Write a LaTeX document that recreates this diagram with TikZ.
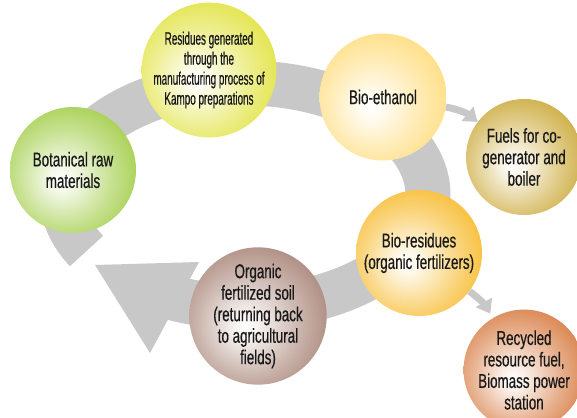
\documentclass[tikz,border=0pt]{standalone}
\usepackage{fontspec}
\setmainfont[FakeStretch=0.67,FakeBold=0.5]{Liberation Sans}
\newfontfamily\xnarrow[FakeStretch=0.55,FakeBold=0.5]{Liberation Sans}
\usetikzlibrary{arrows.meta}
\definecolor{ringgray}{RGB}{200,200,200}
\definecolor{txt}{RGB}{25,25,25}
\definecolor{cgreen}{RGB}{141,194,31}
\definecolor{cyellow}{RGB}{218,220,20}
\definecolor{cethanol}{RGB}{255,212,96}
\definecolor{cfuel}{RGB}{192,150,14}
\definecolor{cresid}{RGB}{245,172,0}
\definecolor{csoil}{RGB}{148,104,88}
\definecolor{crecyc}{RGB}{206,94,24}
\newcommand{\mkball}[2]{%
  \pgfdeclareradialshading{#1}{\pgfpoint{-5bp}{-4bp}}{%
    color(0bp)=(white); color(5bp)=(#2!10!white); color(19bp)=(#2!50!white);
    color(35bp)=(#2!90!white); color(46bp)=(#2); color(60bp)=(#2)}}
\mkball{bgreen}{cgreen}
\mkball{byellow}{cyellow}
\mkball{bethanol}{cethanol}
\mkball{bfuel}{cfuel}
\mkball{bresid}{cresid}
\mkball{bsoil}{csoil}
\mkball{brecyc}{crecyc}
\tikzset{
  ball/.style={circle, inner sep=0pt, align=center, text=txt,
    font=\fontsize{20}{21.5}\selectfont},
  smallarrow/.style={draw=ringgray, line width=7pt,
    -{Triangle[width=18pt,length=13pt]}, color=ringgray},
}
\begin{document}
\begin{tikzpicture}[x=1pt,y=1pt]
\useasboundingbox (0,0) rectangle (577,-417);
\clip (0,0) rectangle (577,-417);
% big cycle arrow
\coordinate (ringc) at (245,-195);
\draw[ringgray, line width=45pt] ([shift={(210:183pt and 112pt)}]ringc)
  arc[start angle=210, end angle=-113, x radius=183pt, y radius=112pt];
\coordinate (tipA) at (95,-265);
\coordinate (baseA) at (199,-262);
\coordinate (baseB) at (150,-353);
\fill[ringgray] (tipA) -- (baseA) -- (baseB) -- cycle;
% circles
\node[ball, shading=bgreen, minimum size=126pt] (bot) at (73,-170) {Botanical raw\\materials};
\node[ball, shading=byellow, minimum size=126pt,
  font=\xnarrow\fontsize{18}{20}\selectfont] (res) at (209,-70)
  {Residues generated\\through the\\manufacturing process of\\Kampo preparations};
\node[ball, shading=bethanol, minimum size=127pt] (eth) at (383,-97) {Bio-ethanol};
\node[ball, shading=bfuel, minimum size=116pt] (fuel) at (524,-157) {Fuels for co-\\generator and\\boiler};
\node[ball, shading=bresid, minimum size=126pt] (bres) at (419,-253) {Bio-residues\\(organic fertilizers)};
\node[ball, shading=bsoil, minimum size=126pt] (soil) at (258,-316) {Organic\\fertilized soil\\(returning back\\to agricultural\\fields)};
\node[ball, shading=brecyc, minimum size=116pt] (rec) at (524,-370) {Recycled\\resource fuel,\\Biomass power\\station};
% small arrows
\draw[smallarrow] (eth) to[bend left=14] (fuel);
\draw[smallarrow, shorten >=5pt] (bres) to[bend left=11] (rec);
\end{tikzpicture}
\end{document}
